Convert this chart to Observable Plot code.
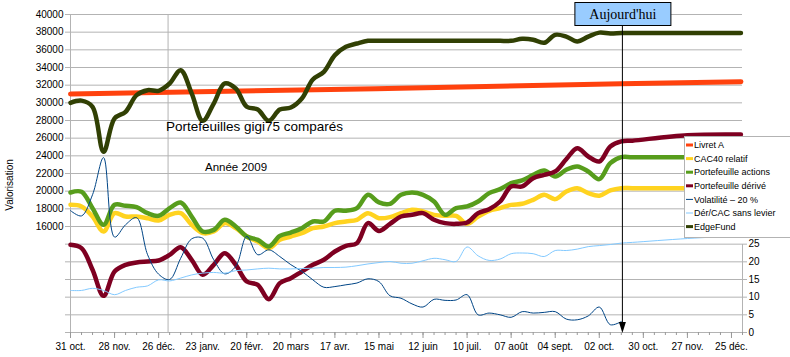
<!DOCTYPE html>
<html><head><meta charset="utf-8">
<script src="https://cdn.jsdelivr.net/npm/d3@7"></script>
<script src="https://cdn.jsdelivr.net/npm/@observablehq/plot@0.6"></script>
<style>
body{margin:0;background:#fff;}
#chart{position:relative;width:790px;height:357px;}
</style></head><body><div id="chart"></div>
<script>
// ---------- data ----------
const startDate = "2008-10-31";   // first weekly point
const xEnd = "2010-01-01";
const yearStart = "2009-01-01";
const today = "2009-10-17";
const todayLabel = "Aujourd'hui";
const titleText = "Portefeuilles gigi75 comparés";
const subtitleText = "Année 2009";
const yAxisLabel = "Valorisation";

const seriesNames = ["Livret A","CAC40 relatif","Portefeuille actions","Portefeuille dérivé","Volatilité – 20 %","Dér/CAC sans levier","EdgeFund"];
const seriesColors = ["#ff420e","#ffd320","#579d1c","#7e0021","#004586","#83caff","#314004"];

// Livret A (sparse points)
const livretDates = ["2008-10-31","2009-05-13","2009-10-16","2009-12-31"];
const livretA = [31000,31600,32150,32400];

// weekly values 31 oct 2008 .. 16 oct 2009 (51 weeks)
const cac40 = [18450,18270,17130,15430,17510,17130,17130,16940,16680,17320,17510,16190,15250,15430,16380,15810,14870,14300,13550,14490,14870,15250,15810,16000,16380,16570,16760,17510,16940,17060,17510,17890,17700,17320,17210,17210,16300,17130,17780,18080,18450,18570,19020,19590,19100,19960,20340,19780,19480,20080,20340];
const actions = [19850,19930,18080,16190,18450,18340,18190,17510,17210,18080,18720,17130,15430,15620,16760,16000,14870,14490,13740,14940,15320,15810,16570,16570,17780,17780,18080,19590,18720,18570,19590,19850,19590,18830,17320,18080,18270,18830,19780,20230,20900,21210,21850,22340,21660,22420,22790,22230,21360,23170,23850];
const derive = [13930,13550,11100,8150,10900,11660,11930,12040,12150,12790,13660,12230,10530,11660,12980,11660,9770,9400,7770,9590,10150,10900,11660,12230,13170,13810,14110,16380,15500,16300,17130,17320,17510,16760,16380,16300,16450,17510,17960,18830,20530,20530,21470,21850,22230,23620,24870,23930,23360,25060,25630];
const volatilite = [34.5,33.0,39.0,49.5,27.0,30.5,32.5,22.0,16.5,15.0,21.0,26.5,26.7,20.6,16.6,18.7,27.2,22.0,23.4,21.5,19.2,17.3,14.9,12.8,13.0,13.5,14.0,15.2,14.4,10.4,9.7,8.1,7.2,9.4,9.1,9.2,10.7,5.0,5.5,5.0,4.3,5.9,5.5,5.7,5.9,3.8,3.6,4.7,7.2,2.2,3.1];
const derCac = [11.9,11.9,12.5,11.9,10.7,11.9,12.8,13.2,14.9,14.6,15.4,16.3,16.8,17.0,16.8,17.5,17.7,18.0,18.2,18.0,18.0,18.1,18.2,18.4,18.4,18.5,18.9,19.4,19.8,20.1,19.6,19.6,20.3,21.0,20.6,20.1,24.2,21.7,20.4,20.8,22.3,22.5,22.3,21.5,23.2,23.2,23.6,24.3,24.6,24.9,25.3];
const edgeFund = [30000,30250,29550,24450,28230,28980,30870,31430,31360,32190,33700,31060,27960,29920,32190,31620,29550,29240,27960,29240,29470,30490,32640,33510,35400,36340,36720,37020,37020,37020,37020,37020,37020,37020,37020,37020,37020,37020,37020,37020,37020,37250,37150,36800,37700,37500,36950,37500,37950,37850,37900];

// projection after "today"
const projDates = ["2009-10-23","2009-11-27","2009-12-31"];
const projCac40 = [20340,20340,20340];
const projActions = [23850,23850,23850];
const projDerive = [25720,26340,26420];
const projDerCac = [25.5,26.6,27.4];
const projEdge = [37900,37900,37900];

// axes
const leftTickValues = [40000,38000,36000,34000,32000,30000,28000,26000,24000,22000,20000,18000,16000];
const gridValues = [4000,6000,8000,10000,12000,14000,16000,18000,20000,22000,24000,26000,28000,30000,32000,34000,36000,38000,40000];
const rightTickLabels = [0,5,10,15,20,25];
const xTickLabels = ["31 oct.","28 nov.","26 déc.","23 janv.","20 févr.","20 mars","17 avr.","15 mai","12 juin","10 juil.","07 août","04 sept.","02 oct.","30 oct.","27 nov.","25 déc."];

// ---------- build ----------
const parse = s => new Date(s + "T00:00:00Z");
const t0 = parse(startDate);
const weeks = d3.range(volatilite.length).map(i => d3.utcDay.offset(t0, 7 * i));
const majorDates = xTickLabels.map((_, i) => d3.utcDay.offset(t0, 28 * i));
const minorDates = d3.range(0, 62).map(i => d3.utcDay.offset(t0, 7 * i));
const labelByTime = new Map(majorDates.map((d, i) => [+d, xTickLabels[i]]));
// right axis: 0..25 maps onto 4000..14000 of the left axis
const rightToLeft = r => 4000 + r * 400;

function rows(vals, projVals, conv = v => v) {
  const r = weeks.map((d, i) => ({date: d, value: conv(vals[i])}));
  if (projVals) projDates.forEach((d, i) => r.push({date: parse(d), value: conv(projVals[i])}));
  return r;
}
const livretRows = livretDates.map((d, i) => ({date: parse(d), value: livretA[i]}));
const dataSets = [
  {rows: livretRows, w: 5, curve: "linear"},
  {rows: rows(cac40, projCac40), w: 4.5},
  {rows: rows(actions, projActions), w: 4.5},
  {rows: rows(derive, projDerive), w: 4.5},
  {rows: rows(volatilite, null, rightToLeft), w: 1},
  {rows: rows(derCac, projDerCac, rightToLeft), w: 1},
  {rows: rows(edgeFund, projEdge), w: 4.5}
];

const font = "'Liberation Sans', Arial, sans-serif";
const plot = Plot.plot({
  width: 790, height: 357,
  marginLeft: 70, marginRight: 48, marginTop: 14, marginBottom: 25,
  style: {fontFamily: font, fontSize: "10px", background: "white", overflow: "visible", color: "black"},
  x: {type: "utc", domain: [t0, parse(xEnd)]},
  y: {domain: [4000, 40000]},
  marks: [
    Plot.gridY(gridValues, {stroke: "#b3b3b3", strokeOpacity: 1, insetLeft: -5}),
    Plot.ruleX([parse(yearStart)], {stroke: "#b3b3b3"}),
    Plot.ruleX([t0], {stroke: "#b3b3b3"}),
    Plot.ruleX([parse(xEnd)], {y1: rightToLeft(0), y2: rightToLeft(25), stroke: "#b3b3b3"}),
    Plot.axisY({anchor: "left", ticks: leftTickValues, tickSize: 0, tickPadding: 7, label: null, tickFormat: d => String(d)}),
    Plot.axisY({anchor: "right", ticks: rightTickLabels.map(rightToLeft), tickSize: 4, tickPadding: 2, label: null, stroke: "#b3b3b3", tickFormat: d => String((d - 4000) / 400)}),
    Plot.axisX({ticks: minorDates, tickSize: 3, tickFormat: () => "", label: null, stroke: "#999"}),
    Plot.axisX({ticks: majorDates, tickSize: 6, tickPadding: 4, label: null, stroke: "#999", tickFormat: d => labelByTime.get(+d)}),
    ...dataSets.map((s, i) => Plot.line(s.rows, {x: "date", y: "value", stroke: seriesColors[i], strokeWidth: s.w, curve: s.curve || "catmull-rom", strokeLinejoin: "round"}))
  ]
});
document.getElementById("chart").appendChild(plot);

// ---------- annotations ----------
const svg = d3.select(plot);
const xs = plot.scale("x"), ys = plot.scale("y");
const txt = (x, y, s, size, anchor = "start", family = font) =>
  svg.append("text").attr("x", x).attr("y", y).attr("text-anchor", anchor)
     .attr("font-family", family).attr("font-size", size).attr("fill", "black").text(s);

txt(166, 131, titleText, 13.5);
txt(205, 171, subtitleText, 11.5);
svg.append("text").attr("transform", "translate(13,185) rotate(-90)").attr("text-anchor", "middle")
   .attr("font-family", font).attr("font-size", 10).attr("fill", "black").text(yAxisLabel);

// today marker
const px = xs.apply(parse(today));
const yb = ys.apply(4000);
svg.append("line").attr("x1", px).attr("x2", px).attr("y1", 25).attr("y2", yb - 8).attr("stroke", "black").attr("stroke-width", 1);
svg.append("path").attr("d", `M${px - 3.5},${yb - 10}L${px + 3.5},${yb - 10}L${px},${yb + 1}Z`).attr("fill", "black");
svg.append("rect").attr("x", px - 47.5).attr("y", 2.5).attr("width", 96).attr("height", 23).attr("fill", "#99ccff").attr("stroke", "black");
txt(px + 0.5, 18.5, todayLabel, 14, "middle", "'Liberation Serif', 'Times New Roman', serif");

// legend
const lg = svg.append("g");
lg.append("rect").attr("x", 684.5).attr("y", 136.5).attr("width", 110).attr("height", 101).attr("fill", "white").attr("stroke", "#b3b3b3");
seriesNames.forEach((name, i) => {
  const cy = 145 + i * 13.6;
  const thin = dataSets[i].w < 2;
  lg.append("rect").attr("x", 686).attr("y", cy - (thin ? 0.5 : 1.5)).attr("width", 7).attr("height", thin ? 1 : 3).attr("fill", seriesColors[i]);
  lg.append("text").attr("x", 694).attr("y", cy + 3.2).attr("text-anchor", "start").attr("font-family", font)
    .attr("font-size", 9).attr("fill", "black").text(name);
});
</script></body></html>
